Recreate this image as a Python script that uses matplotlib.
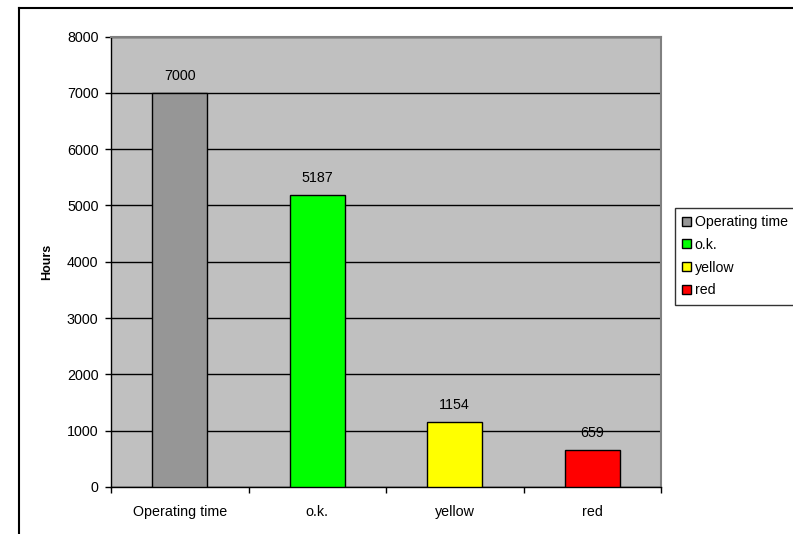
import matplotlib
matplotlib.use("Agg")
import matplotlib.pyplot as plt
from matplotlib.patches import Patch
from matplotlib.lines import Line2D

# data
categories = ["Operating time", "o.k.", "yellow", "red"]
hours = [7000, 5187, 1154, 659]
colors = ["#969696", "#00ff00", "#ffff00", "#ff0000"]

plt.rcParams['font.family'] = ['Liberation Sans', 'DejaVu Sans']
plt.rcParams['font.size'] = 10.3

fig = plt.figure(figsize=(7.93, 5.34), dpi=100)
ax = fig.add_axes([111 / 793, 47 / 534, 550 / 793, 450.5 / 534])
ax.set_facecolor("#c0c0c0")

x = range(len(categories))
ax.bar(x, hours, width=0.4, color=colors, edgecolor="black", linewidth=1, zorder=3)
for xi, h in zip(x, hours):
    ax.annotate(str(h), (xi, h), xytext=(0, 7), textcoords="offset points",
                ha="center", va="bottom", zorder=4)

ax.set_ylim(0, 8000)
ax.set_xlim(-0.5, 3.5)
ax.set_yticks(range(0, 8001, 1000))
ax.yaxis.grid(True, color="black", linewidth=1, zorder=0)
ax.set_axisbelow(True)

# ticks between categories, labels centred on the bars
ax.set_xticks([-0.5, 0.5, 1.5, 2.5, 3.5])
ax.set_xticklabels([])
ax.set_xticks(list(x), minor=True)
ax.set_xticklabels(categories, minor=True)
ax.tick_params(axis="x", which="major", direction="out", length=4, width=1)
ax.tick_params(axis="x", which="minor", length=0, pad=13)
ax.tick_params(axis="y", direction="out", length=4, width=1, pad=5)

for s in ("left", "bottom"):
    ax.spines[s].set_color("black")
    ax.spines[s].set_linewidth(1)
for s in ("top", "right"):
    ax.spines[s].set_color("#808080")
    ax.spines[s].set_linewidth(1.5)

ax.set_ylabel("Hours", fontweight="bold", fontsize=9, labelpad=10)

handles = [Patch(facecolor=c, edgecolor="black", linewidth=1) for c in colors]
leg = fig.legend(handles, categories, loc="upper left",
                 bbox_to_anchor=(675 / 793, 1 - 208 / 534),
                 frameon=True, fancybox=False, edgecolor="black",
                 handlelength=0.6, handleheight=0.6, handletextpad=0.3,
                 labelspacing=0.62, borderpad=0.5, borderaxespad=0, fontsize=10.2)
leg.get_frame().set_linewidth(1)

# chart border
fig.add_artist(Line2D([19 / 793, 1.0], [1 - 8 / 534] * 2, color="black", linewidth=1.5,
                      transform=fig.transFigure))
fig.add_artist(Line2D([19 / 793] * 2, [0, 1 - 8 / 534], color="black", linewidth=1.5,
                      transform=fig.transFigure))

fig.savefig("out.png", dpi=100)
